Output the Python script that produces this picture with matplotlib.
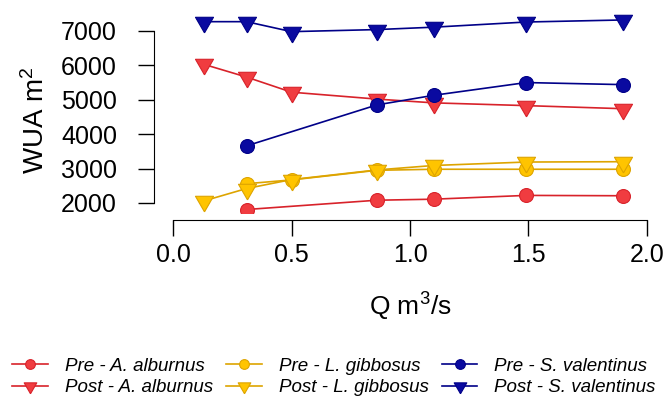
import numpy as np
import matplotlib
matplotlib.use('Agg')
import matplotlib.pyplot as plt

plt.rcParams['font.family'] = ['Liberation Sans', 'DejaVu Sans']
plt.rcParams['mathtext.fontset'] = 'custom'
plt.rcParams['mathtext.rm'] = 'Liberation Sans'
plt.rcParams['mathtext.it'] = 'Liberation Sans:italic'

# discharge values (m3/s)
q_post = [0.13, 0.31, 0.50, 0.86, 1.10, 1.49, 1.90]
q_pre_alb = [0.31, 0.86, 1.10, 1.49, 1.90]
q_pre_gib = [0.31, 0.50, 0.86, 1.10, 1.49, 1.90]
q_pre_val = [0.31, 0.86, 1.10, 1.49, 1.90]

# WUA values (m2)
pre_alb = [1810, 2080, 2110, 2220, 2210]
post_alb = [6030, 5660, 5220, 5020, 4910, 4830, 4740]
pre_gib = [2560, 2670, 2950, 2980, 2980, 2980]
post_gib = [2060, 2420, 2680, 2960, 3090, 3190, 3200]
pre_val = [3660, 4850, 5130, 5500, 5440]
post_val = [7270, 7270, 6980, 7040, 7110, 7260, 7320]

red, red_e = '#F03C40', '#D8222A'
yel, yel_e = '#FFC400', '#DDA400'
blu, blu_e = '#0A0AA0', '#000088'

# R style down triangle (centroid at the point)
tri = [(0, -1), (-0.866, 0.5), (0.866, 0.5), (0, -1)]

fig = plt.figure(figsize=(6.67, 3.99), dpi=100)
ax = fig.add_axes([0.2474, 0.4662, 0.7421, 0.5088])

def series(x, y, face, edge, mk, ms, lab):
    return ax.plot(x, y, color=edge, lw=1.2, marker=mk, ms=ms,
                   markerfacecolor=face, markeredgecolor=edge,
                   markeredgewidth=0.8, label=lab)[0]

h1 = series(q_pre_alb, pre_alb, red, red_e, 'o', 10, 'Pre - A. alburnus')
h2 = series(q_post, post_alb, red, red_e, tri, 15, 'Post - A. alburnus')
h3 = series(q_pre_gib, pre_gib, yel, yel_e, 'o', 10, 'Pre - L. gibbosus')
h4 = series(q_post, post_gib, yel, yel_e, tri, 15, 'Post - L. gibbosus')
h5 = series(q_pre_val, pre_val, blu, blu_e, 'o', 10, 'Pre - S. valentinus')
h6 = series(q_post, post_val, blu, blu_e, tri, 15, 'Post - S. valentinus')

ax.set_xlim(-0.034, 2.055)
ax.set_ylim(1709, 7610)
for s in ['top', 'right']:
    ax.spines[s].set_visible(False)
ax.spines['left'].set_position(('outward', 8))
ax.spines['bottom'].set_position(('outward', 5))
ax.spines['left'].set_bounds(2000, 7000)
ax.spines['bottom'].set_bounds(0, 2)
ax.set_xticks([0, 0.5, 1.0, 1.5, 2.0])
ax.set_xticklabels(['0.0', '0.5', '1.0', '1.5', '2.0'])
ax.set_yticks([2000, 3000, 4000, 5000, 6000, 7000])
ax.tick_params(axis='both', length=11.5, width=1, labelsize=18)
ax.tick_params(axis='y', pad=15)
ax.tick_params(axis='x', pad=5)

fig.text(36 / 667, 1 - 120 / 399, 'WUA m$^2$', rotation=90, fontsize=20,
         ha='center', va='center')
fig.text(410 / 667, 1 - 307 / 399, 'Q m$^3$/s', fontsize=19,
         ha='center', va='center')

leg = fig.legend(handles=[h1, h2, h3, h4, h5, h6], ncol=3, loc='center',
                 bbox_to_anchor=(334 / 667, 1 - 377 / 399), frameon=False,
                 prop={'style': 'italic', 'size': 13.5}, handlelength=1.9,
                 handletextpad=0.9, columnspacing=0.7, labelspacing=0.22,
                 markerscale=0.7, borderpad=0)

fig.savefig('out.png', dpi=100)
